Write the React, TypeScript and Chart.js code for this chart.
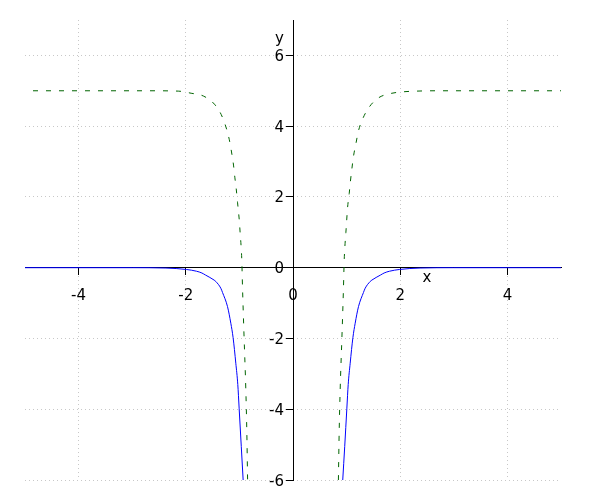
import { useEffect, useRef } from 'react';
import { Chart, registerables } from 'chart.js';

Chart.register(...registerables);

// ---- axis definitions ----
const X_MIN = -5;
const X_MAX = 5;
const Y_MIN = -6;
const Y_MAX = 7;
const X_TICKS = [-4, -2, 0, 2, 4];
const Y_TICKS = [-6, -4, -2, 0, 2, 4, 6];
const X_TITLE = 'x';
const Y_TITLE = 'y';

// ---- green dashed curve ----
const GREEN_LEFT_X = [-5.0, -3.5, -2.7, -2.14, -1.9, -1.67, -1.465, -1.34, -1.252, -1.19, -1.147, -1.11, -1.084, -1.06, -1.035, -1.0, -0.987, -0.968, -0.955, -0.942, -0.912, -0.881, -0.862, -0.847];
const GREEN_LEFT_Y = [5.0, 5.0, 5.0, 4.99, 4.93, 4.85, 4.62, 4.33, 3.98, 3.63, 3.27, 2.9, 2.54, 2.24, 1.85, 1.3, 1.0, 0.6, 0.2, -0.55, -2.0, -3.4, -4.6, -6.0];
const GREEN_RIGHT_X = [0.847, 0.862, 0.881, 0.912, 0.942, 0.955, 0.968, 0.987, 1.0, 1.017, 1.049, 1.067, 1.099, 1.129, 1.173, 1.222, 1.304, 1.427, 1.595, 1.813, 2.05, 2.3, 2.7, 3.5, 5.0];
const GREEN_RIGHT_Y = [-6.0, -4.6, -3.4, -2.0, -0.55, 0.2, 0.6, 1.0, 1.3, 1.68, 2.1, 2.38, 2.8, 3.15, 3.5, 3.87, 4.22, 4.55, 4.8, 4.92, 4.97, 4.99, 5.0, 5.0, 5.0];

// ---- blue solid curve ----
const BLUE_LEFT_X = [-5.0, -3.0, -2.37, -1.99, -1.8, -1.7, -1.63, -1.472, -1.44, -1.347, -1.315, -1.222, -1.16, -1.118, -1.067, -1.03, -1.005, -0.965, -0.93];
const BLUE_LEFT_Y = [0, 0, -0.01, -0.05, -0.1, -0.15, -0.21, -0.35, -0.39, -0.58, -0.7, -1.1, -1.57, -1.97, -2.7, -3.3, -3.97, -5.05, -6.0];
const BLUE_RIGHT_X = [0.928, 0.965, 1.005, 1.03, 1.067, 1.118, 1.16, 1.222, 1.315, 1.347, 1.44, 1.472, 1.63, 1.7, 1.8, 1.99, 2.37, 3.0, 5.0];
const BLUE_RIGHT_Y = [-6.0, -5.05, -3.97, -3.3, -2.7, -1.97, -1.57, -1.1, -0.7, -0.58, -0.39, -0.35, -0.21, -0.15, -0.1, -0.05, -0.01, 0, 0];

const BLUE = '#0000ff';
const GREEN = '#006400';
const GRID = '#c8c8c8';
const FONT = '15px "DejaVu Sans"';

const pts = (xs: number[], ys: number[]) => xs.map((x, i) => ({ x, y: ys[i] }));

const axisText = {
  id: 'axisText',
  afterDraw(chart: any) {
    const { ctx } = chart;
    const xs = chart.scales.x;
    const ys = chart.scales.y;
    const x0 = xs.getPixelForValue(0);
    const y0 = ys.getPixelForValue(0);
    ctx.save();
    ctx.font = FONT;
    ctx.fillStyle = '#000';
    ctx.textBaseline = 'alphabetic';
    ctx.textAlign = 'center';
    X_TICKS.forEach((v) => ctx.fillText(String(v), xs.getPixelForValue(v), y0 + 32));
    ctx.textAlign = 'right';
    Y_TICKS.forEach((v) => ctx.fillText(String(v), x0 - 9, ys.getPixelForValue(v) + 5.5));
    ctx.textAlign = 'center';
    ctx.fillText(X_TITLE, xs.getPixelForValue(2.5), y0 + 14);
    ctx.fillText(Y_TITLE, x0 - 13.5, ys.getPixelForValue(Y_MAX) + 22.5);
    ctx.restore();
  },
};

export default function App() {
  const ref = useRef<HTMLCanvasElement | null>(null);
  useEffect(() => {
    if (!ref.current) return;
    const gridColor = (c: any) => (c.tick && c.tick.value === 0 ? 'rgba(0,0,0,0)' : GRID);
    const common = {
      showLine: true,
      pointRadius: 0,
      pointHoverRadius: 0,
      borderWidth: 1,
      fill: false,
      cubicInterpolationMode: 'monotone' as const,
    };
    const chart = new Chart(ref.current, {
      type: 'scatter',
      data: {
        datasets: [
          { ...common, data: pts(BLUE_LEFT_X, BLUE_LEFT_Y), borderColor: BLUE },
          { ...common, data: pts(BLUE_RIGHT_X, BLUE_RIGHT_Y), borderColor: BLUE },
          { ...common, data: pts(GREEN_LEFT_X, GREEN_LEFT_Y), borderColor: GREEN, borderDash: [5, 8], borderDashOffset: 5 },
          { ...common, data: pts(GREEN_RIGHT_X, GREEN_RIGHT_Y), borderColor: GREEN, borderDash: [5, 8] },
        ],
      },
      options: {
        animation: false,
        responsive: false,
        maintainAspectRatio: false,
        devicePixelRatio: 1,
        layout: { padding: { left: 25, right: 39, top: 20, bottom: 20 } },
        plugins: { legend: { display: false }, tooltip: { enabled: false } },
        events: [],
        scales: {
          x: {
            type: 'linear',
            min: X_MIN,
            max: X_MAX,
            position: { y: 0 } as any,
            afterBuildTicks: (s: any) => {
              s.ticks = X_TICKS.map((v) => ({ value: v }));
            },
            ticks: { display: false },
            grid: { color: gridColor, lineWidth: 1, drawTicks: true, tickLength: 7, tickColor: '#000', tickWidth: 1 },
            border: { display: true, color: '#000', width: 1, dash: [1, 3] },
          },
          y: {
            type: 'linear',
            min: Y_MIN,
            max: Y_MAX,
            position: { x: 0 } as any,
            afterBuildTicks: (s: any) => {
              s.ticks = Y_TICKS.map((v) => ({ value: v }));
            },
            ticks: { display: false },
            grid: { color: gridColor, lineWidth: 1, drawTicks: true, tickLength: 7, tickColor: '#000', tickWidth: 1 },
            border: { display: true, color: '#000', width: 1, dash: [1, 3] },
          },
        },
      },
      plugins: [axisText],
    });
    return () => chart.destroy();
  }, []);
  return (
    <div style={{ position: 'absolute', left: 0, top: 0, width: 600, height: 500, background: '#fff' }}>
      <canvas ref={ref} width={600} height={500} style={{ display: 'block' }} />
    </div>
  );
}
